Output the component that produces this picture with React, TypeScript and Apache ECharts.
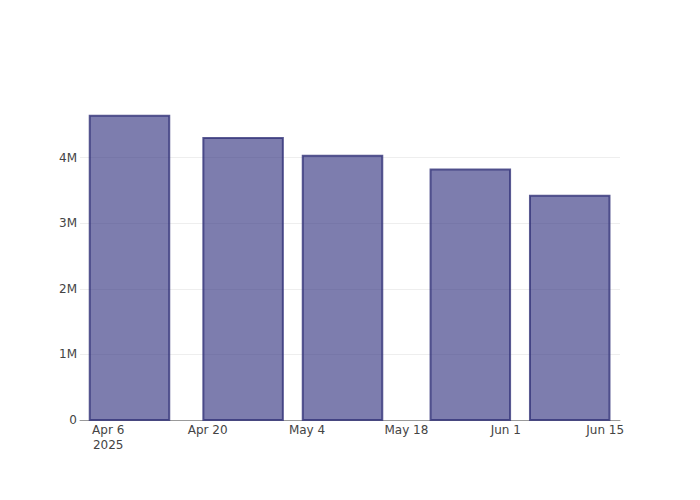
import React, { useEffect, useRef } from "react";
import * as echarts from "echarts";

const DAY = 86400000;
const barDates = ["2025-04-09", "2025-04-25", "2025-05-09", "2025-05-27", "2025-06-10"];
const barValues = [4640000, 4300000, 4030000, 3820000, 3420000];
const xTickDates = ["2025-04-06", "2025-04-20", "2025-05-04", "2025-05-18", "2025-06-01", "2025-06-15"];
const yTicks = [0, 1000000, 2000000, 3000000, 4000000];
const MONTHS = ["Jan", "Feb", "Mar", "Apr", "May", "Jun", "Jul", "Aug", "Sep", "Oct", "Nov", "Dec"];

const toTs = (s: string) => {
  const [y, m, d] = s.split("-").map(Number);
  return Date.UTC(y, m - 1, d);
};

export default function App() {
  const ref = useRef<HTMLDivElement>(null);
  useEffect(() => {
    document.body.style.margin = "0";
    if (!ref.current) return;
    const chart = echarts.init(ref.current, undefined, { renderer: "svg" });
    const xs = barDates.map(toTs);
    let minGap = Infinity;
    for (let i = 1; i < xs.length; i++) minGap = Math.min(minGap, xs[i] - xs[i - 1]);
    const half = (minGap * 0.8) / 2;
    const firstTick = toTs(xTickDates[0]);
    const xMin = firstTick - 3.97 * DAY;
    const xMax = firstTick + 72.08 * DAY;
    const font = "DejaVu Sans";
    chart.setOption({
      animation: false,
      backgroundColor: "#fff",
      grid: { left: 80, right: 80, top: 100, bottom: 80, containLabel: false },
      xAxis: {
        type: "value",
        min: xMin,
        max: xMax,
        axisLine: { show: true, lineStyle: { color: "#9a9a9a", width: 1 } },
        axisTick: { show: false },
        splitLine: { show: false },
        axisLabel: {
          customValues: xTickDates.map(toTs),
          color: "#444",
          fontFamily: font,
          fontSize: 12,
          lineHeight: 15,
          margin: 2,
          formatter: (v: number) => {
            const d = new Date(v);
            const s = MONTHS[d.getUTCMonth()] + " " + d.getUTCDate();
            return v === toTs(xTickDates[0]) ? s + "\n" + d.getUTCFullYear() : s;
          },
        },
      },
      yAxis: {
        type: "value",
        min: 0,
        max: 4880000,
        interval: 1000000,
        axisLine: { show: false },
        axisTick: { show: false },
        splitLine: { show: true, showMaxLine: false, showMinLine: false, lineStyle: { color: "#eeeeee", width: 1 } },
        axisLabel: {
          customValues: yTicks,
          color: "#444",
          fontFamily: font,
          fontSize: 12,
          margin: 3,
          formatter: (v: number) => (v === 0 ? "0" : v / 1000000 + "M"),
        },
      },
      series: [
        {
          type: "custom",
          data: xs.map((x, i) => [x, barValues[i]]),
          encode: { x: 0, y: 1 },
          renderItem: (params: any, api: any) => {
            const x = api.value(0);
            const y = api.value(1);
            const p0 = api.coord([x - half, y]);
            const p1 = api.coord([x + half, 0]);
            return {
              type: "rect",
              shape: { x: p0[0], y: p0[1], width: p1[0] - p0[0], height: p1[1] - p0[1] },
              style: {
                fill: "rgba(55,55,130,0.65)",
                stroke: "rgba(50,50,120,0.8)",
                lineWidth: 2,
              },
            };
          },
        },
      ],
    });
    return () => chart.dispose();
  }, []);
  return <div ref={ref} style={{ width: 700, height: 500 }} />;
}
